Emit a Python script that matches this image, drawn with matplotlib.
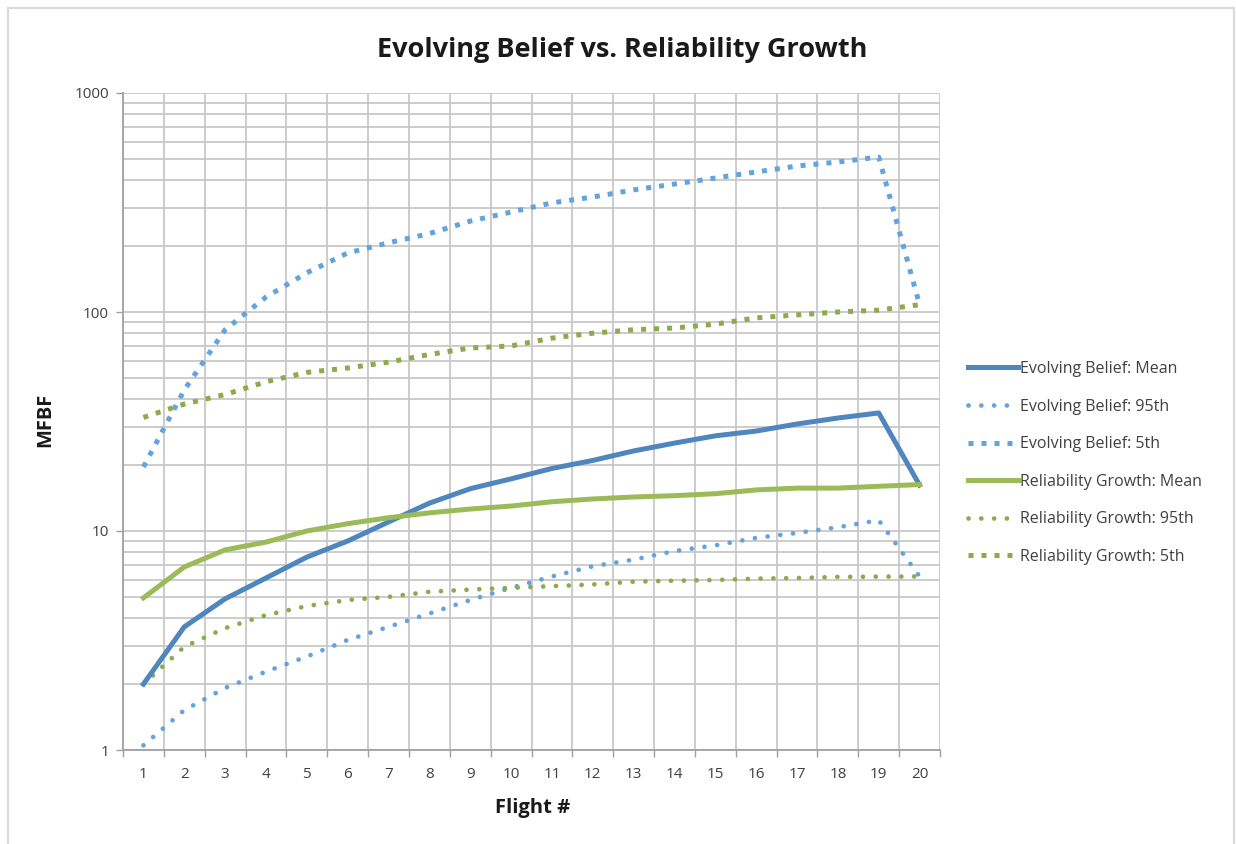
import matplotlib
matplotlib.use("Agg")
import matplotlib.pyplot as plt
from matplotlib.patches import Rectangle
from matplotlib.ticker import LogLocator, NullFormatter, FixedLocator

plt.rcParams['font.family'] = ['Open Sans', 'DejaVu Sans']

flights = list(range(1, 21))
eb_mean = [2.0, 3.65, 4.9, 6.1, 7.6, 9.0, 11.0, 13.4, 15.6, 17.3, 19.3, 21.0, 23.2, 25.2, 27.2, 28.6, 30.8, 32.8, 34.6, 16.2]
eb_95 = [1.05, 1.52, 1.92, 2.28, 2.67, 3.18, 3.65, 4.2, 4.84, 5.5, 6.2, 6.9, 7.4, 8.1, 8.6, 9.3, 9.8, 10.4, 11.2, 6.2]
eb_5 = [19.6, 44, 83, 117, 151, 186, 207, 228, 260, 286, 315, 335, 361, 384, 409, 436, 464, 484, 510, 108]
rg_mean = [4.95, 6.85, 8.2, 8.9, 10.0, 10.8, 11.5, 12.1, 12.6, 13.0, 13.6, 14.0, 14.3, 14.5, 14.8, 15.4, 15.7, 15.7, 16.0, 16.3]
rg_95 = [2.0, 2.96, 3.6, 4.13, 4.54, 4.84, 5.0, 5.28, 5.4, 5.5, 5.6, 5.7, 5.87, 5.93, 5.97, 6.06, 6.1, 6.17, 6.19, 6.2]
rg_5 = [33, 38, 42, 48, 53, 55.5, 59, 64, 68.5, 70, 76, 80, 83, 84.5, 88, 94, 97, 100, 102, 108]

labels = ["Evolving Belief: Mean", "Evolving Belief: 95th", "Evolving Belief: 5th",
          "Reliability Growth: Mean", "Reliability Growth: 95th", "Reliability Growth: 5th"]

blue = '#4F86BD'
blue_l = '#63A4DE'
green = '#9BBB59'
green_d = '#8CAA4E'

W, H = 1236, 844
fig = plt.figure(figsize=(W / 100, H / 100), dpi=100)
fig.patches.append(Rectangle((8 / W, -0.05), (1234 - 8) / W, 1.05 - 8 / H,
                             transform=fig.transFigure, fill=False,
                             edgecolor='#d9d9d9', lw=1.6, zorder=0))

ax = fig.add_axes([123 / W, 1 - 750 / H, (940 - 123) / W, (750 - 93) / H])
ax.set_yscale('log')
ax.set_ylim(1, 1000)
ax.set_xlim(0.5, 20.5)

lw_mean = 3.6
dot_ls = (0, (0.01, 2.7))
sq_ls = (0, (1, 1.6))
l1, = ax.plot(flights, eb_mean, color=blue, lw=lw_mean, label=labels[0], zorder=5)
l2, = ax.plot(flights, eb_95, color=blue_l, lw=3.4, linestyle=dot_ls,
              dash_capstyle='round', label=labels[1], zorder=4)
l3, = ax.plot(flights, eb_5, color=blue_l, lw=3.6, linestyle=sq_ls,
              dash_capstyle='butt', label=labels[2], zorder=4)
l4, = ax.plot(flights, rg_mean, color=green, lw=lw_mean, label=labels[3], zorder=5)
l5, = ax.plot(flights, rg_95, color=green_d, lw=3.4, linestyle=dot_ls,
              dash_capstyle='round', label=labels[4], zorder=4)
l6, = ax.plot(flights, rg_5, color=green_d, lw=3.6, linestyle=sq_ls,
              dash_capstyle='butt', label=labels[5], zorder=4)

grid_c = '#c8c8c8'
ax.yaxis.set_minor_locator(LogLocator(base=10, subs=range(2, 10), numticks=20))
ax.yaxis.set_minor_formatter(NullFormatter())
ax.set_yticks([1, 10, 100, 1000])
ax.set_yticklabels(['1', '10', '100', '1000'])
ax.grid(True, which='major', axis='y', color=grid_c, lw=1.3)
ax.grid(True, which='minor', axis='y', color=grid_c, lw=1.3)

ax.set_xticks(flights)
ax.set_xticklabels([str(f) for f in flights])
ax.xaxis.set_minor_locator(FixedLocator([i + 0.5 for i in range(0, 21)]))
ax.grid(True, which='minor', axis='x', color=grid_c, lw=1.3)
ax.set_axisbelow(True)

ax.tick_params(axis='x', which='major', length=0, pad=12, labelsize=11, labelcolor='#404040')
ax.tick_params(axis='x', which='minor', length=5, color='#a0a0a0', width=1)
ax.tick_params(axis='y', which='major', length=5, color='#a0a0a0', width=1, pad=5,
               labelsize=11, labelcolor='#404040')
ax.tick_params(axis='y', which='minor', length=0)

for s in ['top', 'right']:
    ax.spines[s].set_visible(False)
for s in ['left', 'bottom']:
    ax.spines[s].set_color('#a0a0a0')
    ax.spines[s].set_linewidth(1.3)

fig.text(622 / W, 1 - 50 / H, "Evolving Belief vs. Reliability Growth", ha='center', va='center',
         fontsize=19.5, fontweight='bold', color='#1a1a1a')
fig.text(533 / W, 1 - 808 / H, "Flight #", ha='center', va='center',
         fontsize=14.5, fontweight='bold', color='#1a1a1a')
fig.text(45 / W, 1 - 420 / H, "MFBF", ha='center', va='center', rotation=90,
         fontsize=14.5, fontweight='bold', color='#1a1a1a')

leg = fig.legend(handles=[l1, l2, l3, l4, l5, l6], loc='upper left',
                 bbox_to_anchor=(968 / W, 1 - 361 / H), frameon=False,
                 borderpad=0, borderaxespad=0, handlelength=3.1, handletextpad=0.15,
                 labelspacing=1.35, fontsize=11.5)
for t in leg.get_texts():
    t.set_color('#404040')

fig.savefig('out.png', dpi=100)
